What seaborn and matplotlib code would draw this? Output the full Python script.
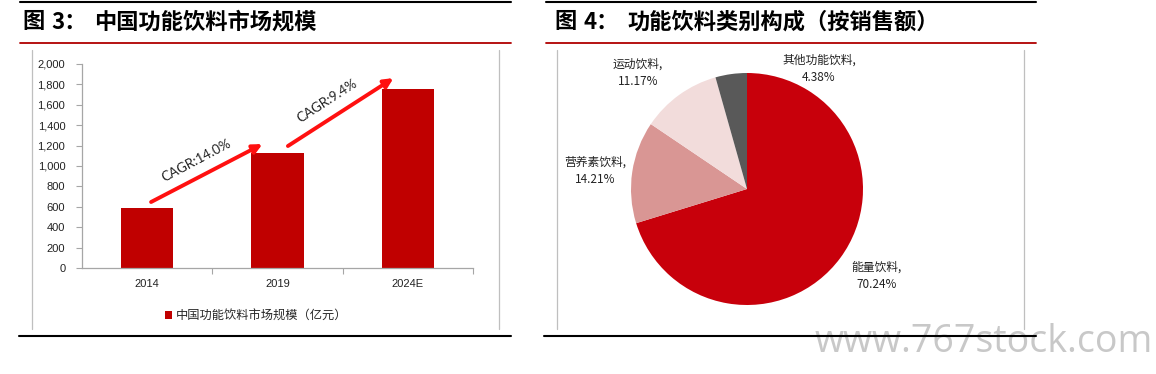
import matplotlib
matplotlib.use("Agg")
import matplotlib.pyplot as plt
from matplotlib.lines import Line2D
import seaborn as sns
import pandas as pd
import numpy as np

# ---- data ----
years = ["2014", "2019", "2024E"]
market_size = [585, 1124, 1758]
cagr_labels = ["CAGR:14.0%", "CAGR:9.4%"]
legend_label = "中国功能饮料市场规模（亿元）"
y_ticks = [0, 200, 400, 600, 800, 1000, 1200, 1400, 1600, 1800, 2000]

pie_labels = ["能量饮料", "营养素饮料", "运动饮料", "其他功能饮料"]
pie_values = [70.24, 14.21, 11.17, 4.38]
pie_colors = ["#C8000B", "#D99694", "#F2DCDB", "#595959"]

title_left = ["图", "3：", "中国功能饮料市场规模"]
title_right = ["图", "4：", "功能饮料类别构成（按销售额）"]

sns.set_theme(style="white")
plt.rcParams['font.family'] = ['Noto Sans CJK SC', 'DejaVu Sans']

W, H = 1156, 374
fig = plt.figure(figsize=(W / 100, H / 100), dpi=100)

def fx(px):
    return px / W

def fy(py):
    return 1 - py / H

def hline(x0, x1, y, color, lw):
    fig.add_artist(Line2D([fx(x0), fx(x1)], [fy(y), fy(y)], color=color, lw=lw,
                          transform=fig.transFigure))

def vline(x, y0, y1, color, lw):
    fig.add_artist(Line2D([fx(x), fx(x)], [fy(y0), fy(y1)], color=color, lw=lw,
                          transform=fig.transFigure))

# frame lines
hline(20, 511, 1.5, "black", 1.5)
hline(546, 1036, 1.5, "black", 1.5)
hline(20, 511, 43, "#B00000", 1.3)
hline(546, 1036, 43, "#B00000", 1.3)
vline(32, 50, 329, "#BFBFBF", 0.9)
vline(499, 50, 329, "#BFBFBF", 0.9)
vline(557, 50, 329, "#BFBFBF", 0.9)
vline(1024, 50, 329, "#BFBFBF", 0.9)

# titles
for parts, xs in ((title_left, (22, 51, 94)), (title_right, (554, 583, 627))):
    for txt, x in zip(parts, xs):
        fig.text(fx(x), fy(22), txt, fontsize=16, fontweight="bold",
                 va="center", ha="left", color="black")

# ---- left: bar chart ----
ax1 = fig.add_axes([fx(82), fy(268), (473 - 82) / W, (268 - 64) / H])
df = pd.DataFrame({"year": years, "size": market_size})
sns.barplot(data=df, x="year", y="size", ax=ax1, color="#C00000", width=0.4,
            saturation=1, edgecolor="none")
ax1.set_xlim(-0.5, 2.5)
ax1.set_ylim(0, 2000)
ax1.set_yticks(y_ticks)
ax1.set_yticklabels([f"{v:,}" for v in y_ticks], fontsize=8, color="#222222",
                    family=["Liberation Sans", "DejaVu Sans"])
ax1.set_xlabel("")
ax1.set_ylabel("")
for lab in ax1.get_xticklabels():
    lab.set_fontsize(8)
    lab.set_color("#222222")
    lab.set_family(["Liberation Sans", "DejaVu Sans"])
for s in ["top", "right"]:
    ax1.spines[s].set_visible(False)
for s in ["left", "bottom"]:
    ax1.spines[s].set_color("#A6A6A6")
    ax1.spines[s].set_linewidth(0.9)
ax1.tick_params(axis="y", which="major", left=True, length=4, width=0.8,
                color="#A6A6A6", pad=8)
ax1.tick_params(axis="x", which="major", bottom=False, length=0, pad=8)
ax1.set_xticks([0.5, 1.5, 2.5], minor=True)
ax1.tick_params(axis="x", which="minor", bottom=True, length=4, width=0.8,
                color="#A6A6A6")
ax1.grid(False)

# CAGR arrows
arrow_kw = dict(arrowstyle="-|>,head_length=0.45,head_width=0.22", color="#FF1010",
                lw=2.8, shrinkA=0, shrinkB=0)
ax1.annotate("", xy=(0.885, 1215), xytext=(0.03, 647), arrowprops=arrow_kw)
ax1.annotate("", xy=(1.89, 1862), xytext=(1.08, 1196), arrowprops=arrow_kw)
ax1.text(0.377, 1058, cagr_labels[0], rotation=28, ha="center", va="center",
         fontsize=9.6, color="#222222", family=["Lato", "DejaVu Sans"])
ax1.text(1.377, 1637, cagr_labels[1], rotation=33, ha="center", va="center",
         fontsize=9.6, color="#222222", family=["Lato", "DejaVu Sans"])

ax1.legend([ax1.patches[0]], [legend_label], loc="center left",
           bbox_to_anchor=(fx(165), fy(316)), bbox_transform=fig.transFigure,
           frameon=False, fontsize=8.8, handlelength=0.55, handleheight=0.55,
           handletextpad=0.3, borderpad=0, borderaxespad=0)

# ---- right: pie chart ----
R = 116
ax2 = fig.add_axes([fx(747 - R), fy(189 + R), 2 * R / W, 2 * R / H])
wedges, _ = ax2.pie(pie_values, colors=pie_colors, startangle=90,
                    counterclock=False, radius=1,
                    wedgeprops=dict(linewidth=0))
ax2.set_xlim(-1, 1)
ax2.set_ylim(-1, 1)
ax2.set_aspect("equal")
ax2.axis("off")

label_pos = [(1.12, -0.75), (-1.31, 0.16), (-0.94, 1.0), (0.62, 1.035)]
for name, val, (lx, ly) in zip(pie_labels, pie_values, label_pos):
    ax2.text(lx, ly, f"{name},\n{val:.2f}%", ha="center", va="center",
             fontsize=8.5, color="#222222", linespacing=1.45, clip_on=False)

# watermark
fig.text(fx(1153), fy(352), "www.767stock.com", fontsize=27, color="#C8C8C8",
         ha="right", va="baseline", family=["Open Sans", "DejaVu Sans"], zorder=1)

# bottom lines (drawn over watermark)
hline(19, 511, 336, "black", 1.5)
hline(544, 1036, 336, "black", 1.5)

fig.savefig("out.png", dpi=100)
